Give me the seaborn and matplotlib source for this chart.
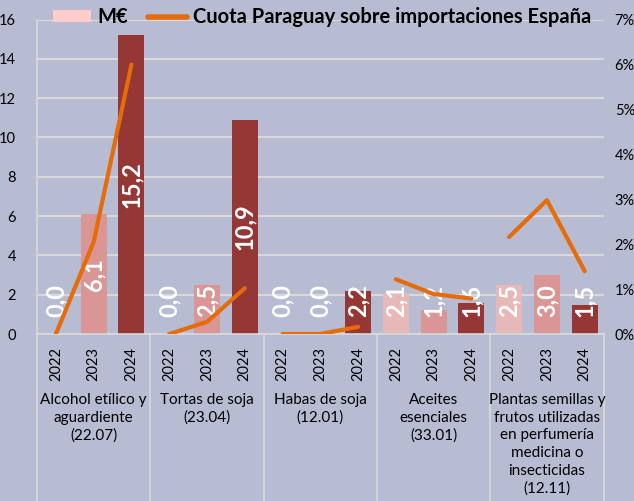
import matplotlib
matplotlib.use("Agg")
import matplotlib.pyplot as plt
import matplotlib.transforms as mtransforms
from matplotlib.lines import Line2D
from matplotlib.patches import Patch
import pandas as pd
import seaborn as sns

products = [
    "Alcohol etílico y\naguardiente\n(22.07)",
    "Tortas de soja\n(23.04)",
    "Habas de soja\n(12.01)",
    "Aceites\nesenciales\n(33.01)",
    "Plantas semillas y\nfrutos utilizadas\nen perfumería\nmedicina o\ninsecticidas\n(12.11)",
]
years = ["2022", "2023", "2024"]
meur = [0.0, 6.1, 15.2,
        0.0, 2.5, 10.9,
        0.0, 0.0, 2.2,
        2.1, 1.2, 1.6,
        2.5, 3.0, 1.5]
cuota = [0.0, 2.05, 6.0,
         0.0, 0.27, 1.02,
         0.0, 0.0, 0.16,
         1.22, 0.89, 0.79,
         2.16, 2.98, 1.40]
y_ticks = [0, 2, 4, 6, 8, 10, 12, 14, 16]
pct_ticks = [0, 1, 2, 3, 4, 5, 6, 7]

BG = "#B8BCD2"
GRID = "#D9D9D9"
year_colors = {"2022": "#E6B9B8", "2023": "#D99694", "2024": "#953735"}
ORANGE = "#E46C0A"

sns.set_theme(style="whitegrid", rc={
    "axes.facecolor": BG, "figure.facecolor": BG,
    "grid.color": GRID, "grid.linewidth": 1.5,
    "text.color": "black", "xtick.color": "black", "ytick.color": "black",
})
plt.rcParams["font.family"] = ["Lato", "DejaVu Sans"]

df = pd.DataFrame({
    "pos": range(len(meur)),
    "product": [p for p in products for _ in years],
    "year": years * len(products),
    "meur": meur,
    "cuota": cuota,
})

fig = plt.figure(figsize=(6.34, 5.01), dpi=100)
ax = fig.add_axes([0.0584, 0.3333, 0.8936, 0.6276])

sns.barplot(data=df, x="pos", y="meur", hue="year", palette=year_colors,
            dodge=False, width=0.69, saturation=1, legend=False,
            edgecolor="none", linewidth=0, ax=ax)
ax.set_xlim(-0.5, len(meur) - 0.5)
ax.set_ylim(0, 16)
ax.set_yticks(y_ticks)
ax.set_xticks(df["pos"])
ax.set_xticklabels(df["year"], rotation=90, fontsize=10.5)
ax.tick_params(axis="x", length=0, pad=9)
ax.tick_params(axis="y", length=0, pad=15, labelsize=10.5)
ax.grid(axis="x", visible=False)
ax.set_xlabel("")
ax.set_ylabel("")
for side in ["top", "right"]:
    ax.spines[side].set_visible(False)
for side in ["left", "bottom"]:
    ax.spines[side].set_color(GRID)
    ax.spines[side].set_linewidth(1.2)

for x, v in zip(df["pos"], df["meur"]):
    ax.text(x, max(v / 2, 1.72), f"{v:.1f}".replace(".", ","), rotation=90,
            ha="center", va="center", color="white", fontweight="bold", fontsize=17)

# group labels and separators below the axis
trans = mtransforms.blended_transform_factory(ax.transData, ax.transAxes)
for g, name in enumerate(products):
    ax.text(g * 3 + 1, -0.188, name, transform=trans, ha="center", va="top",
            fontsize=11, linespacing=1.33)
for g in range(len(products) + 1):
    ax.plot([g * 3 - 0.5, g * 3 - 0.5], [0, -0.54], transform=trans,
            color=GRID, lw=1.2, clip_on=False)

ax2 = ax.twinx()
sns.lineplot(data=df, x="pos", y="cuota", units="product", estimator=None,
             color=ORANGE, linewidth=3.0, ax=ax2)
for line in ax2.get_lines():
    line.set_solid_capstyle("round")
ax2.set_ylim(0, 7)
ax2.set_yticks(pct_ticks)
ax2.set_yticklabels([f"{t}%" for t in pct_ticks])
ax2.tick_params(axis="y", length=0, pad=8, labelsize=10.5)
ax2.grid(False)
ax2.set_ylabel("")
ax2.set_xlabel("")
for side in ax2.spines:
    ax2.spines[side].set_visible(False)
ax.set_xlim(-0.5, len(meur) - 0.5)

handles = [Patch(facecolor="#FFCCCC", edgecolor="none"),
           Line2D([], [], color=ORANGE, lw=4, solid_capstyle="round")]
fig.legend(handles, ["M€", "Cuota Paraguay sobre importaciones España"],
           loc="center", bbox_to_anchor=(0.508, 0.966), ncol=2, frameon=False,
           prop={"weight": "bold", "size": 14.5}, handlelength=1.9,
           handleheight=0.5, handletextpad=0.3, columnspacing=1.0)

fig.savefig("out.png", dpi=100, facecolor=BG)
